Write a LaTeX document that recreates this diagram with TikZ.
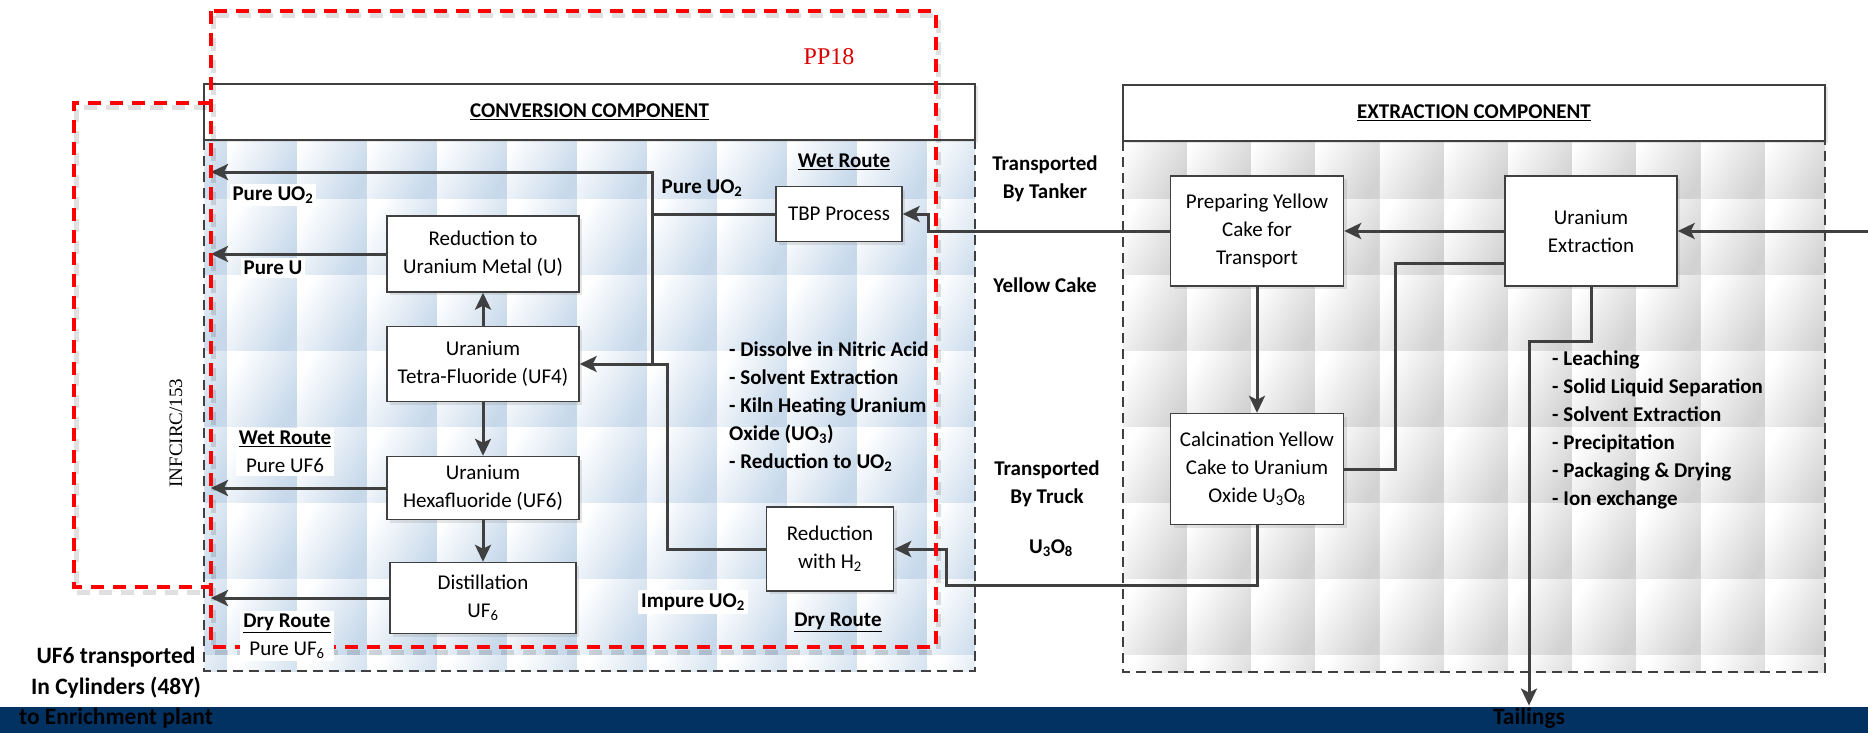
\documentclass[tikz,border=0pt]{standalone}
\usepackage{fontspec}
\setmainfont{Carlito}
\newfontfamily\timesfont{Liberation Serif}
\usetikzlibrary{arrows.meta,shadows}

\definecolor{linegray}{RGB}{64,64,64}
\definecolor{tileblue}{RGB}{198,216,234}
\definecolor{tilegray}{RGB}{210,210,210}
\definecolor{barblue}{RGB}{2,50,98}

\begin{document}
\begin{tikzpicture}[x=1pt,y=-1pt,
		every node/.style={font=\fontsize{21}{28}\selectfont},
		stepbox/.style={draw=linegray,line width=1.4pt,fill=white,align=center,inner sep=0pt,
			drop shadow={shadow xshift=3pt,shadow yshift=-3pt,opacity=0.2}},
		headbox/.style={draw=linegray,line width=1.4pt,fill=white,inner sep=0pt,
			font=\fontsize{21}{28}\selectfont\bfseries,
			drop shadow={shadow xshift=3pt,shadow yshift=-2pt,opacity=0.2}},
		routetext/.style={font=\fontsize{21}{28}\selectfont\bfseries,align=center,inner sep=1pt},
		whitetag/.style={routetext,fill=white,inner sep=3pt},
		flow/.style={draw=linegray,line width=3pt,-{Stealth[length=17pt,width=16pt,inset=4pt]}},
		wire/.style={draw=linegray,line width=3pt},
		bodyline/.style={draw=linegray,line width=1.8pt,dash pattern=on 10pt off 6pt},
		zone/.style={draw=red,line width=4pt,dash pattern=on 13pt off 9pt},
		zoneshadow/.style={draw=black,opacity=0.12,line width=5pt,dash pattern=on 13pt off 9pt}
	]
	\useasboundingbox (0,0) rectangle (1868,733);

	\begin{scope}
		\clip (204,140) rectangle (975,671);
		\foreach \i in {0,...,11}
			\foreach \j in {0,...,7}
				\shade[left color=white,right color=tileblue,shading angle=60] ({157+70*\i},{123+76*\j}) rectangle ++(70,76);
	\end{scope}
	\begin{scope}
		\clip (1123,141) rectangle (1825,672);
		\foreach \i in {0,...,10}
			\foreach \j in {0,...,7}
				\shade[left color=white,right color=tilegray,shading angle=60] ({1123+64.2*\i},{123+76*\j}) rectangle ++(64.2,76);
	\end{scope}
	\draw[bodyline] (204,140) rectangle (975,671);
	\draw[bodyline] (1123,141) rectangle (1825,672);

	\node[headbox,minimum width=771pt,minimum height=56pt] (convhead) at (589.5,112) {\underline{CONVERSION COMPONENT}};
	\node[headbox,minimum width=702pt,minimum height=56pt] (exthead) at (1474,113) {\underline{EXTRACTION COMPONENT}};

	\fill[barblue] (0,707) rectangle (1868,733);

	\node[stepbox,minimum width=192pt,minimum height=76pt] (metal) at (483,254) {Reduction to\\Uranium Metal (U)};
	\node[stepbox,minimum width=192pt,minimum height=75pt] (uffour) at (483,364) {Uranium\\Tetra-Fluoride (UF4)};
	\node[stepbox,minimum width=192pt,minimum height=63pt] (ufsix) at (483,488) {Uranium\\Hexafluoride (UF6)};
	\node[stepbox,minimum width=186pt,minimum height=71pt] (distil) at (483,598) {Distillation\\UF\textsubscript{6}};
	\node[stepbox,minimum width=126pt,minimum height=55pt] (tbp) at (839,214) {TBP Process};
	\node[stepbox,minimum width=127pt,minimum height=84pt] (hydro) at (830,549) {Reduction\\with H\textsubscript{2}};
	\node[stepbox,minimum width=173pt,minimum height=110pt] (prep) at (1257,231) {Preparing Yellow\\Cake for\\Transport};
	\node[stepbox,minimum width=172pt,minimum height=110pt] (extract) at (1591,231) {Uranium\\Extraction};
	\node[stepbox,minimum width=173pt,minimum height=111pt] (calc) at (1257,469) {Calcination Yellow\\Cake to Uranium\\Oxide U\textsubscript{3}O\textsubscript{8}};
	\node[routetext,font=\fontsize{23.5}{28}\selectfont\bfseries,inner sep=2pt] (tailings) at (1529,718) {Tailings};

	\coordinate (outuo) at (211,172);
	\coordinate (outu) at (211,254);
	\coordinate (outwet) at (211,488);
	\coordinate (outdry) at (211,598);
	\coordinate (wetjoin) at (652,214);
	\coordinate (wetdrop) at (652,364);
	\coordinate (dryturn) at (667,549);
	\coordinate (tankturn) at (928,231);
	\coordinate (truckturn) at (946,585);
	\coordinate (minetop) at (1395,263);
	\coordinate (tailturn) at (1529,341);
	\coordinate (feed) at (1868,231);

	\draw[flow] (tbp.west) -- (wetjoin) |- (outuo);
	\draw[wire] (wetjoin) -- (wetdrop);
	\draw[flow] (hydro.west) -- (dryturn) |- (uffour.east);
	\draw[flow] (metal.west) -- (outu);
	\draw[flow] (uffour) -- (metal);
	\draw[flow] (uffour) -- (ufsix);
	\draw[flow] (ufsix) -- (distil);
	\draw[flow] (ufsix.west) -- (outwet);
	\draw[flow] (distil.west) -- (outdry);
	\draw[flow] (prep.west) -- (tankturn) |- (tbp.east);
	\draw[flow] (extract.west) -- (prep.east);
	\draw[flow] (feed) -- (extract.east);
	\draw[wire] (extract.west |- minetop) -- (minetop) |- (calc.east);
	\draw[flow] (extract.south) |- (tailturn) -- (tailings.north);
	\draw[flow] (prep) -- (calc);
	\draw[flow] (calc.south) |- (truckturn) |- (hydro.east);

	\draw[zoneshadow,shift={(2,5)}] (211,11) rectangle (936,647);
	\draw[zoneshadow,shift={(2,5)}] (205,103) -- (74,103) -- (74,587) -- (205,587);
	\draw[zone] (211,11) rectangle (936,647);
	\draw[zone] (211,103) -- (74,103) -- (74,587) -- (211,587);

	\node[text=red!85!black,font=\timesfont\fontsize{24}{28}\selectfont] (pp) at (829,57) {PP18};
	\node[rotate=90,font=\timesfont\fontsize{19}{24}\selectfont] (infcirc) at (176,433) {INFCIRC/153};

	\node[whitetag] (pureuoa) at (273,195) {Pure UO\textsubscript{2}};
	\node[whitetag] (pureu) at (273,268) {Pure U};
	\node[whitetag] (wetleft) at (285,452) {\underline{Wet Route}\\{\mdseries Pure UF6}};
	\node[whitetag] (dryleft) at (287,636) {\underline{Dry Route}\\{\mdseries Pure UF\textsubscript{6}}};
	\node[routetext] (pureuob) at (702,188) {Pure UO\textsubscript{2}};
	\node[routetext] (wettop) at (844,162) {\underline{Wet Route}};
	\node[whitetag] (impure) at (693,602) {Impure UO\textsubscript{2}};
	\node[routetext] (drybottom) at (838,622) {\underline{Dry Route}};
	\node[routetext,align=left,anchor=west] (wetsteps) at (728,407) {- Dissolve in Nitric Acid\\- Solvent Extraction\\- Kiln Heating Uranium\\Oxide (UO\textsubscript{3})\\- Reduction to UO\textsubscript{2}};
	\node[routetext] (tanker) at (1045,179) {Transported\\By Tanker};
	\node[routetext] (cake) at (1045,285) {Yellow Cake};
	\node[routetext] (truck) at (1047,484) {Transported\\By Truck};
	\node[routetext] (oxide) at (1051,548) {U\textsubscript{3}O\textsubscript{8}};
	\node[routetext,align=left,anchor=west] (minesteps) at (1551,430) {- Leaching\\- Solid Liquid Separation\\- Solvent Extraction\\- Precipitation\\- Packaging \& Drying\\- Ion exchange};
	\node[routetext,font=\fontsize{23.5}{30.5}\selectfont\bfseries] (cylinders) at (116,688) {UF6 transported\\In Cylinders (48Y)\\to Enrichment plant};
\end{tikzpicture}
\end{document}
